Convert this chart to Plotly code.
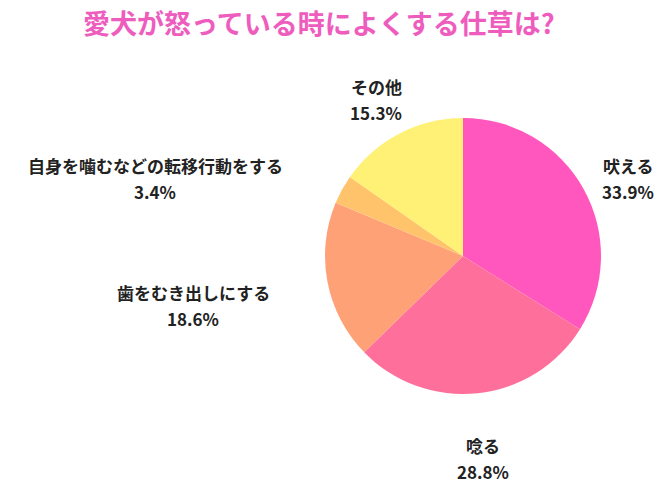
import plotly.graph_objects as go

labels = ["吠える", "唸る", "歯をむき出しにする", "自身を噛むなどの転移行動をする", "その他"]
values = [33.9, 28.8, 18.6, 3.4, 15.3]
colors = ["#FF57BE", "#FF6F9B", "#FFA177", "#FFC46B", "#FFF176"]
# label anchor positions (pixel centres of the two text lines)
label_x = [628, 483, 193, 155, 376]
label_y = [165, 445, 292, 165, 87]

W, H = 667, 500
cx, cy, r = 463, 256, 138

fig = go.Figure(go.Pie(
    labels=labels, values=values, sort=False, direction="clockwise", rotation=0,
    marker=dict(colors=colors, line=dict(width=0)),
    textinfo="none", hoverinfo="label+percent", showlegend=False,
    domain=dict(x=[(cx - r) / W, (cx + r) / W], y=[(H - cy - r) / H, (H - cy + r) / H]),
))

font = dict(family="Noto Sans CJK JP", size=17, color="#222222")
anns = []
for lab, v, x, y in zip(labels, values, label_x, label_y):
    anns.append(dict(text=f"<b>{lab}</b>", x=x / W, y=1 - y / H, xref="paper", yref="paper",
                     showarrow=False, font=font, xanchor="center", yanchor="middle"))
    anns.append(dict(text=f"<b>{v:.1f}%</b>", x=x / W, y=1 - (y + 26) / H, xref="paper", yref="paper",
                     showarrow=False, font=font, xanchor="center", yanchor="middle"))
anns.append(dict(text="<b>愛犬が怒っている時によくする仕草は?</b>", x=319 / W, y=1 - 22 / H,
                 xref="paper", yref="paper", showarrow=False, xanchor="center", yanchor="middle",
                 font=dict(family="Noto Sans CJK JP", size=27, color="#EE5DBE")))

fig.update_layout(width=W, height=H, margin=dict(l=0, r=0, t=0, b=0),
                  paper_bgcolor="white", plot_bgcolor="white", annotations=anns)
fig.write_html("out.html")
